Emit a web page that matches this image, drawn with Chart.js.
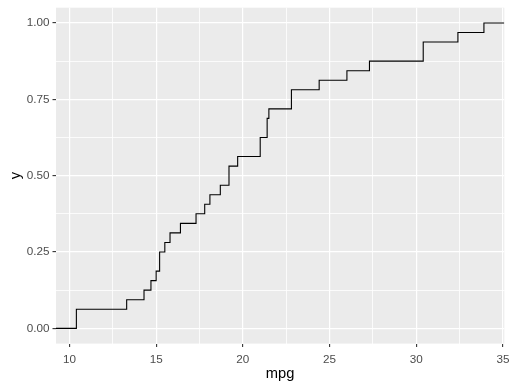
<!DOCTYPE html>
<html>
<head>
<meta charset="utf-8">
<script src="https://cdn.jsdelivr.net/npm/chart.js@4.4.7/dist/chart.umd.min.js"></script>
<style>
  html, body { margin: 0; padding: 0; background: #fff; }
  #wrap { width: 512px; height: 388px; }
</style>
</head>
<body>
<div id="wrap"><canvas id="chart" width="512" height="388"></canvas></div>
<script>
// ECDF of mpg: step positions and cumulative proportions
var mpgSteps = [
  9.225, 10.4, 13.3, 14.3, 14.7, 15.0, 15.2, 15.5, 15.8, 16.4, 17.3, 17.8,
  18.1, 18.7, 19.2, 19.7, 21.0, 21.4, 21.5, 22.8, 24.4, 26.0, 27.3, 30.4,
  32.4, 33.9, 35.075,
];
var ecdfValues = [
  0, 0.0625, 0.09375, 0.125, 0.15625, 0.1875, 0.25, 0.28125, 0.3125,
  0.34375, 0.375, 0.40625, 0.4375, 0.46875, 0.53125, 0.5625, 0.625, 0.6875,
  0.71875, 0.78125, 0.8125, 0.84375, 0.875, 0.9375, 0.96875, 1, 1,
];
var xTicks = [10, 12.5, 15, 17.5, 20, 22.5, 25, 27.5, 30, 32.5, 35];
var xLabels = ['10', '', '15', '', '20', '', '25', '', '30', '', '35'];
var yTicks = [0, 0.125, 0.25, 0.375, 0.5, 0.625, 0.75, 0.875, 1];
var yLabels = ['0.00', '', '0.25', '', '0.50', '', '0.75', '', '1.00'];

var panelBg = {
  id: 'panelBg',
  beforeDraw: function (chart) {
    var a = chart.chartArea;
    var c = chart.ctx;
    c.save();
    c.fillStyle = '#EBEBEB';
    c.fillRect(a.left, a.top, a.right - a.left, a.bottom - a.top);
    c.restore();
  },
};

function isMinor(ctx) {
  return ctx.index % 2 === 1;
}

function noOverflow(scale) {
  scale.paddingLeft = 0;
  scale.paddingRight = 0;
  scale.paddingTop = 0;
  scale.paddingBottom = 0;
}

var ctx = document.getElementById('chart').getContext('2d');
new Chart(ctx, {
  type: 'line',
  data: {
    datasets: [
      {
        data: mpgSteps.map(function (x, i) {
          return { x: x, y: ecdfValues[i] };
        }),
        borderColor: '#000000',
        borderWidth: 1.1,
        stepped: 'before',
        pointRadius: 0,
        fill: false,
      },
    ],
  },
  options: {
    responsive: false,
    animation: false,
    layout: { padding: { left: 0, right: 7.7, top: 7.7, bottom: 0 } },
    plugins: { legend: { display: false }, tooltip: { enabled: false } },
    scales: {
      x: {
        type: 'linear',
        min: 9.225,
        max: 35.075,
        afterBuildTicks: function (scale) {
          scale.ticks = xTicks.map(function (v) { return { value: v }; });
        },
        afterFit: function (scale) {
          scale.height = 44.4;
          noOverflow(scale);
        },
        border: { display: false },
        grid: {
          color: '#FFFFFF',
          lineWidth: function (c) { return isMinor(c) ? 0.8 : 1.2; },
          tickColor: function (c) { return isMinor(c) ? 'rgba(0,0,0,0)' : '#333333'; },
          tickWidth: 1.1,
          tickLength: 3.5,
        },
        ticks: {
          autoSkip: false,
          maxRotation: 0,
          padding: 6,
          color: '#4D4D4D',
          font: { family: 'Liberation Sans, Arial', size: 11.7 },
          callback: function (v, i) { return xLabels[i]; },
        },
        title: {
          display: true,
          text: 'mpg',
          color: '#000000',
          font: { family: 'Liberation Sans, Arial', size: 14.7 },
          padding: { top: 2, bottom: 5 },
        },
      },
      y: {
        type: 'linear',
        min: -0.05,
        max: 1.05,
        afterBuildTicks: function (scale) {
          scale.ticks = yTicks.map(function (v) { return { value: v }; });
        },
        afterFit: function (scale) {
          scale.width = 56;
          noOverflow(scale);
        },
        border: { display: false },
        grid: {
          color: '#FFFFFF',
          lineWidth: function (c) { return isMinor(c) ? 0.8 : 1.2; },
          tickColor: function (c) { return isMinor(c) ? 'rgba(0,0,0,0)' : '#333333'; },
          tickWidth: 1.1,
          tickLength: 3.5,
        },
        ticks: {
          autoSkip: false,
          padding: 3,
          color: '#4D4D4D',
          font: { family: 'Liberation Sans, Arial', size: 11.7 },
          callback: function (v, i) { return yLabels[i]; },
        },
        title: {
          display: true,
          text: 'y',
          color: '#000000',
          font: { family: 'Liberation Sans, Arial', size: 14.7 },
          padding: { top: 7, bottom: 0 },
        },
      },
    },
  },
  plugins: [panelBg],
});
</script>
</body>
</html>
